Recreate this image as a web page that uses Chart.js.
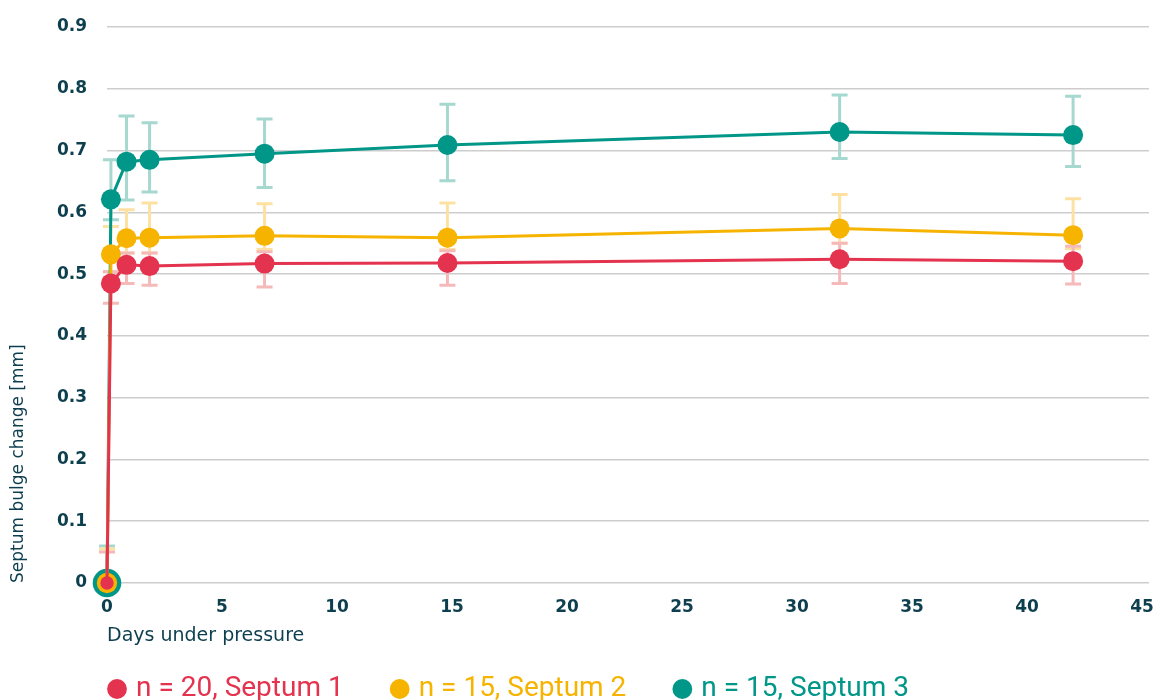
<!DOCTYPE html>
<html>
<head>
<meta charset="utf-8">
<script src="https://cdn.jsdelivr.net/npm/chart.js@4.4.1/dist/chart.umd.min.js"></script>
<style>html,body{margin:0;padding:0;background:#fff;}canvas{display:block;}</style>
</head>
<body>
<canvas id="c" width="1158" height="700"></canvas>
<script>
// ---- data ----
const days = [0, 0.17, 0.85, 1.85, 6.85, 14.8, 31.85, 42];
const xTickLabels = ['0', '5', '10', '15', '20', '25', '30', '35', '40', '45'];
const yTickLabels = ['0', '0.1', '0.2', '0.3', '0.4', '0.5', '0.6', '0.7', '0.8', '0.9'];
const seriesNames = ['n = 20, Septum 1', 'n = 15, Septum 2', 'n = 15, Septum 3'];

const septum1     = [0,    0.485, 0.515, 0.513, 0.517, 0.518, 0.524, 0.521];
const septum1Low  = [0,    0.453, 0.485, 0.482, 0.479, 0.482, 0.485, 0.484];
const septum1High = [0.05, 0.504, 0.534, 0.534, 0.536, 0.538, 0.550, 0.545];

const septum2     = [0,     0.532, 0.558, 0.559, 0.562, 0.559, 0.574, 0.563];
const septum2Low  = [0,     0.504, 0.534, 0.534, 0.540, 0.540, 0.550, 0.541];
const septum2High = [0.055, 0.577, 0.604, 0.615, 0.614, 0.615, 0.629, 0.622];

const septum3     = [0,    0.621, 0.682, 0.685, 0.695, 0.709, 0.730, 0.725];
const septum3Low  = [0,    0.588, 0.620, 0.633, 0.640, 0.651, 0.687, 0.674];
const septum3High = [0.06, 0.685, 0.756, 0.745, 0.751, 0.775, 0.790, 0.788];

// ---- styles ----
const RED = '#E4334E', YELLOW = '#F6B300', TEAL = '#009688';
const RED_PALE = '#F6B9B9', YELLOW_PALE = '#FDE1A2', TEAL_PALE = '#A6D8D0';
const INK = '#0E3F4F';

const errors = [
  {low: septum1Low, high: septum1High, color: RED_PALE},
  {low: septum2Low, high: septum2High, color: YELLOW_PALE},
  {low: septum3Low, high: septum3High, color: TEAL_PALE}
];

const toPoints = vals => vals.map((v, i) => ({x: days[i], y: v}));

const errorBars = {
  id: 'errorBars',
  beforeDatasetsDraw(chart) {
    const {ctx, scales: {x, y}} = chart;
    ctx.save();
    for (let d = chart.data.datasets.length - 1; d >= 0; d--) {
      const e = errors[d];
      ctx.strokeStyle = e.color;
      ctx.lineWidth = 3;
      ctx.lineCap = 'butt';
      days.forEach((day, i) => {
        const px = x.getPixelForValue(day);
        const lo = y.getPixelForValue(e.low[i]);
        const hi = y.getPixelForValue(e.high[i]);
        ctx.beginPath();
        ctx.moveTo(px, lo); ctx.lineTo(px, hi);
        ctx.moveTo(px - 8, hi); ctx.lineTo(px + 8, hi);
        ctx.moveTo(px - 8, lo); ctx.lineTo(px + 8, lo);
        ctx.stroke();
      });
    }
    ctx.restore();
  }
};

const legendPlace = {
  id: 'legendPlace',
  afterLayout(chart) {
    const l = chart.legend;
    if (!l) return;
    l.left = 61; l.right = 1158;
    l.top = 624; l.bottom = 700;
  }
};

// stop tick labels from pushing the plot area inward
const noLabelPadding = s => {
  s._calculatePadding = function () {
    this.paddingLeft = 0; this.paddingRight = 0; this.paddingTop = 0; this.paddingBottom = 0;
  };
  s._handleMargins = function () {};
};

const mkSet = (label, vals, color, radii) => ({
  label,
  data: toPoints(vals),
  borderColor: color,
  backgroundColor: color,
  pointBackgroundColor: color,
  pointBorderWidth: 0,
  pointRadius: radii,
  pointHoverRadius: radii,
  borderWidth: 3,
  tension: 0,
  clip: false,
  pointStyle: 'circle'
});

new Chart(document.getElementById('c'), {
  type: 'line',
  data: {
    datasets: [
      mkSet(seriesNames[0], septum1, RED,    [6.7, 10, 10, 10, 10, 10, 10, 10]),
      mkSet(seriesNames[1], septum2, YELLOW, [10.2, 10, 10, 10, 10, 10, 10, 10]),
      mkSet(seriesNames[2], septum3, TEAL,   [14.3, 10, 10, 10, 10, 10, 10, 10])
    ]
  },
  options: {
    responsive: false,
    devicePixelRatio: 1,
    animation: false,
    events: [],
    layout: {autoPadding: false, padding: {top: 27, right: 9, left: 0, bottom: 0}},
    scales: {
      x: {
        type: 'linear',
        min: 0,
        max: 45.3,
        beforeFit: noLabelPadding,
        afterFit(s) { s.height = 77; s.paddingLeft = 0; s.paddingRight = 0; },
        grid: {display: false, drawTicks: false},
        border: {display: false},
        ticks: {
          stepSize: 5,
          includeBounds: false,
          padding: 14,
          color: INK,
          font: {family: 'DejaVu Sans', size: 17, weight: 'bold'},
          callback: (v, i) => xTickLabels[i]
        },
        title: {
          display: true,
          text: 'Days under pressure',
          align: 'start',
          color: INK,
          font: {family: 'DejaVu Sans', size: 19},
          padding: {top: 0, bottom: 13}
        }
      },
      y: {
        min: 0,
        max: 0.9,
        beforeFit: noLabelPadding,
        afterFit(s) { s.width = 107; s.paddingTop = 0; s.paddingBottom = 0; },
        grid: {color: '#CDCDCD', lineWidth: 1.5, drawTicks: false},
        border: {display: false},
        ticks: {
          stepSize: 0.1,
          padding: 20,
          color: INK,
          font: {family: 'DejaVu Sans', size: 17, weight: 'bold'},
          callback: (v, i) => yTickLabels[i]
        },
        title: {
          display: true,
          text: 'Septum bulge change [mm]',
          align: 'start',
          color: INK,
          font: {family: 'DejaVu Sans', size: 17},
          padding: {top: 8, bottom: 0}
        }
      }
    },
    plugins: {
      tooltip: {enabled: false},
      legend: {
        position: 'bottom',
        align: 'start',
        maxHeight: 40,
        labels: {
          usePointStyle: true,
          boxWidth: 10,
          boxHeight: 14,
          padding: 51,
          font: {family: 'Roboto', size: 28},
          generateLabels(chart) {
            return chart.data.datasets.map((ds, i) => ({
              text: ds.label,
              fillStyle: ds.borderColor,
              strokeStyle: ds.borderColor,
              fontColor: ds.borderColor,
              lineWidth: 0,
              pointStyle: 'circle',
              hidden: false,
              datasetIndex: i
            }));
          }
        }
      }
    }
  },
  plugins: [errorBars, legendPlace]
});
</script>
</body>
</html>
